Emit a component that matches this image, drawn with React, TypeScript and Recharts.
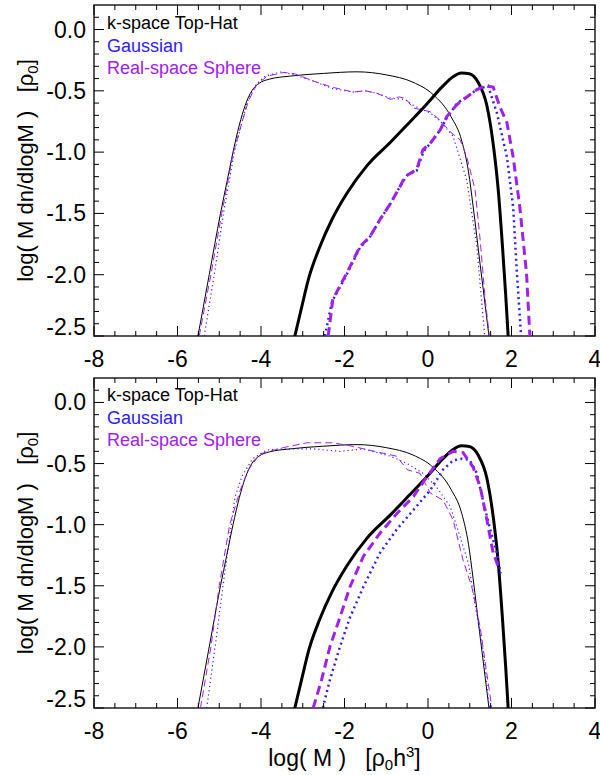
import { LineChart, Line, XAxis, YAxis, ReferenceArea, Legend } from "recharts";

type Pt = [number, number];

const FONT = "'Liberation Sans', Arial, Helvetica, sans-serif";
const BLUE = "#3020ff";
const PURPLE = "#a020f0";

// axis ticks (every minor tick) and the labelled ones
const xTicks = [-8, -7.5, -7, -6.5, -6, -5.5, -5, -4.5, -4, -3.5, -3, -2.5, -2, -1.5, -1, -0.5, 0, 0.5, 1, 1.5, 2, 2.5, 3, 3.5, 4];
const xLabels = [-8, -6, -4, -2, 0, 2, 4];
const yTicks = [-2.5, -2.4, -2.3, -2.2, -2.1, -2, -1.9, -1.8, -1.7, -1.6, -1.5, -1.4, -1.3, -1.2, -1.1, -1, -0.9, -0.8, -0.7, -0.6, -0.5, -0.4, -0.3, -0.2, -0.1, 0, 0.1];
const yLabels = [-2.5, -2, -1.5, -1, -0.5, 0];

const legendNames = ["k-space Top-Hat", "Gaussian", "Real-space Sphere"];

// theory curves, same in both panels
const topHatThin: Pt[] = [
  [-5.51, -2.5], [-5.24, -2.0], [-4.97, -1.5], [-4.82, -1.25], [-4.67, -1.0], [-4.52, -0.78],
  [-4.38, -0.62], [-4.22, -0.5], [-4.05, -0.44], [-3.8, -0.405], [-3.3, -0.38], [-2.5, -0.358],
  [-1.7, -0.345], [-1.0, -0.37], [-0.36, -0.43], [0.12, -0.53], [0.55, -0.71], [0.81, -0.91],
  [0.97, -1.16], [1.08, -1.44], [1.25, -1.92], [1.37, -2.25], [1.46, -2.5],
];
const topHatThick: Pt[] = [
  [-3.19, -2.5], [-3.05, -2.3], [-2.85, -2.02], [-2.6, -1.78], [-2.3, -1.55], [-1.95, -1.34],
  [-1.46, -1.11], [-0.9, -0.92], [-0.45, -0.76], [-0.06, -0.62], [0.36, -0.46], [0.6, -0.385],
  [0.8, -0.355], [0.99, -0.36], [1.2, -0.43], [1.41, -0.62], [1.56, -0.93], [1.68, -1.3],
  [1.78, -1.75], [1.86, -2.16], [1.92, -2.5],
];

// top panel, measured curves
const gaussThinTop: Pt[] = [
  [-5.36, -2.5], [-5.12, -2.0], [-4.9, -1.5], [-4.64, -1.0], [-4.45, -0.75], [-4.32, -0.58],
  [-4.12, -0.45], [-3.9, -0.38], [-3.5, -0.345], [-3.2, -0.37], [-2.75, -0.42], [-2.3, -0.48],
  [-1.8, -0.51], [-1.5, -0.5], [-1.22, -0.52], [-0.9, -0.56], [-0.55, -0.57], [-0.35, -0.62],
  [0.05, -0.68], [0.3, -0.75], [0.6, -0.87], [0.93, -1.23], [1.17, -1.77], [1.34, -2.43], [1.36, -2.5],
];
const sphereThinTop: Pt[] = [
  [-5.48, -2.5], [-5.2, -2.0], [-4.94, -1.5], [-4.66, -1.0], [-4.45, -0.75], [-4.3, -0.58],
  [-4.1, -0.45], [-3.85, -0.38], [-3.45, -0.35], [-3.2, -0.36], [-2.75, -0.42], [-2.3, -0.47],
  [-1.8, -0.51], [-1.5, -0.5], [-1.22, -0.52], [-0.9, -0.57], [-0.7, -0.55], [-0.55, -0.56],
  [-0.35, -0.64], [0.05, -0.67], [0.29, -0.74], [0.55, -0.84], [0.77, -0.9], [0.93, -1.04],
  [1.13, -1.31], [1.25, -1.72], [1.37, -2.2], [1.47, -2.5],
];
const gaussThickTop: Pt[] = [
  [-2.47, -2.5], [-2.3, -2.22], [-1.95, -2.0], [-1.63, -1.78], [-1.39, -1.69], [-1.15, -1.55],
  [-0.9, -1.42], [-0.67, -1.28], [-0.5, -1.19], [-0.27, -1.15], [-0.1, -0.99], [0.05, -0.93],
  [0.29, -0.82], [0.45, -0.72], [0.7, -0.6], [0.93, -0.55], [1.17, -0.49], [1.44, -0.46],
  [1.65, -0.68], [1.89, -1.04], [2.04, -1.45], [2.13, -1.99], [2.23, -2.5],
];
const sphereThickTop: Pt[] = [
  [-2.39, -2.5], [-2.28, -2.2], [-1.95, -1.99], [-1.63, -1.77], [-1.39, -1.69], [-1.15, -1.55],
  [-0.9, -1.42], [-0.67, -1.28], [-0.55, -1.2], [-0.27, -1.14], [-0.12, -0.98], [0.05, -0.93],
  [0.29, -0.82], [0.45, -0.71], [0.7, -0.61], [0.93, -0.55], [1.17, -0.49], [1.37, -0.46],
  [1.56, -0.47], [1.72, -0.63], [1.89, -0.76], [2.04, -1.04], [2.2, -1.45], [2.36, -1.99], [2.44, -2.5],
];

// bottom panel, measured curves
const gaussThinBot: Pt[] = [
  [-5.3, -2.5], [-5.1, -2.0], [-4.89, -1.45], [-4.75, -1.1], [-4.62, -0.77], [-4.45, -0.6],
  [-4.2, -0.46], [-3.86, -0.39], [-3.5, -0.38], [-2.75, -0.38], [-2.11, -0.4], [-1.55, -0.38],
  [-0.9, -0.44], [-0.5, -0.5], [-0.12, -0.58], [0.2, -0.69], [0.53, -0.85], [0.77, -1.1],
  [0.97, -1.32], [1.17, -1.74], [1.33, -2.05], [1.47, -2.5],
];
const sphereThinBot: Pt[] = [
  [-5.45, -2.5], [-5.2, -2.0], [-5.0, -1.5], [-4.75, -1.0], [-4.5, -0.72], [-4.3, -0.55],
  [-4.02, -0.42], [-3.47, -0.37], [-2.9, -0.33], [-2.28, -0.33], [-1.79, -0.36], [-1.15, -0.41],
  [-0.75, -0.44], [-0.5, -0.55], [-0.19, -0.58], [0.05, -0.74], [0.36, -0.8], [0.6, -0.96],
  [0.84, -1.29], [1.05, -1.51], [1.25, -1.84], [1.41, -2.22], [1.53, -2.5],
];
const gaussThickBot: Pt[] = [
  [-2.52, -2.5], [-2.35, -2.27], [-2.11, -2.0], [-1.87, -1.76], [-1.55, -1.51], [-1.15, -1.23],
  [-0.75, -1.04], [-0.35, -0.88], [0.05, -0.72], [0.36, -0.55], [0.6, -0.475], [0.81, -0.46],
  [1.0, -0.47], [1.17, -0.58], [1.33, -0.82], [1.49, -1.04], [1.65, -1.23], [1.74, -1.4],
];
const sphereThickBot: Pt[] = [
  [-2.75, -2.5], [-2.55, -2.27], [-2.35, -2.0], [-2.11, -1.76], [-1.87, -1.51], [-1.55, -1.26],
  [-1.15, -1.07], [-0.75, -0.91], [-0.35, -0.77], [-0.03, -0.61], [0.29, -0.46], [0.6, -0.4],
  [0.84, -0.41], [1.08, -0.53], [1.25, -0.69], [1.41, -0.96], [1.56, -1.23], [1.68, -1.34],
];

const toXY = (pts: Pt[]) => pts.map(([x, y]) => ({ x, y }));

const X_MIN = -8, X_MAX = 4, Y_MIN = -2.5, Y_MAX = 0.2;
const PLOT_RIGHT = 595;
const near = (list: number[], v: number) => list.some((l) => Math.abs(l - v) < 1e-6);

function makeXTick(plotTop: number) {
  return (props: any) => {
    const { x, y, payload } = props;
    const v = payload.value;
    const major = near(xLabels, v);
    const len = major ? 10 : 5;
    return (
      <g>
        <line x1={x} x2={x} y1={y} y2={y - len} stroke="#000" />
        <line x1={x} x2={x} y1={plotTop} y2={plotTop + len} stroke="#000" />
        {major && (
          <text x={x} y={y + 31} textAnchor="middle" fontSize={23} fontFamily={FONT} fill="#000">
            {v}
          </text>
        )}
      </g>
    );
  };
}

function YTick(props: any) {
  const { x, y, payload } = props;
  const v = payload.value;
  const major = near(yLabels, v);
  const len = major ? 10 : 5;
  const shift = Math.abs(v - Y_MIN) < 1e-6 ? -9 : 0;
  return (
    <g>
      <line x1={x} x2={x + len} y1={y} y2={y} stroke="#000" />
      <line x1={PLOT_RIGHT - len} x2={PLOT_RIGHT} y1={y} y2={y} stroke="#000" />
      {major && (
        <text x={x - 8} y={y + shift} dy="0.35em" textAnchor="end" fontSize={23} fontFamily={FONT} fill="#000">
          {v.toFixed(1)}
        </text>
      )}
    </g>
  );
}

function YTitle(props: any) {
  const vb = props.viewBox;
  const cx = 33;
  const cy = vb.y + vb.height / 2;
  return (
    <text x={cx} y={cy} transform={`rotate(-90 ${cx} ${cy})`} textAnchor="middle" fontSize={22}
      fontFamily={FONT} fill="#000" style={{ whiteSpace: "pre" }}>
      {"log( M dn/dlogM )   [ρ"}
      <tspan fontSize={15} dy={5}>0</tspan>
      <tspan dy={-5}>]</tspan>
    </text>
  );
}

function XTitle(props: any) {
  const vb = props.viewBox;
  const cx = vb.x + vb.width / 2;
  const cy = vb.y + 58;
  return (
    <text x={cx} y={cy} textAnchor="middle" fontSize={23} fontFamily={FONT} fill="#000" style={{ whiteSpace: "pre" }}>
      {"log( M )   [ρ"}
      <tspan fontSize={15} dy={4}>0</tspan>
      <tspan dy={-4}>h</tspan>
      <tspan fontSize={15} dy={-9}>3</tspan>
      <tspan dy={9}>]</tspan>
    </text>
  );
}

function LegendBox() {
  const colors = ["#000", BLUE, PURPLE];
  return (
    <div style={{ fontFamily: FONT, fontSize: 18, lineHeight: "22.5px", whiteSpace: "nowrap" }}>
      {legendNames.map((n, i) => (
        <div key={n} style={{ color: colors[i] }}>{n}</div>
      ))}
    </div>
  );
}

function Panel({ height, top, bottom, xAxisHeight, gauss, sphere, gaussThick, sphereThick, showXTitle }: {
  height: number; top: number; bottom: number; xAxisHeight: number;
  gauss: Pt[]; sphere: Pt[]; gaussThick: Pt[]; sphereThick: Pt[]; showXTitle: boolean;
}) {
  return (
    <LineChart width={600} height={height} margin={{ top, right: 5, bottom, left: 0 }}>
      <XAxis
        type="number" dataKey="x" domain={[X_MIN, X_MAX]} ticks={xTicks} interval={0}
        allowDataOverflow tickSize={0} tickMargin={0} tickLine={false} axisLine={false}
        height={xAxisHeight} tick={makeXTick(top)}
        label={showXTitle ? { content: XTitle } : undefined}
      />
      <YAxis
        type="number" domain={[Y_MIN, Y_MAX]} ticks={yTicks} interval={0} allowDataOverflow
        width={94} tickSize={0} tickMargin={0} tickLine={false} axisLine={false}
        tick={YTick} label={{ content: YTitle }}
      />
      <ReferenceArea x1={X_MIN} x2={X_MAX} y1={Y_MIN} y2={Y_MAX} fill="none" stroke="#222" strokeWidth={1.5} fillOpacity={0} />
      <Line data={toXY(topHatThin)} dataKey="y" type="monotone" stroke="#000" strokeWidth={1} dot={false} isAnimationActive={false} />
      <Line data={toXY(gauss)} dataKey="y" type="linear" stroke={BLUE} strokeWidth={1.2} strokeDasharray="1.2 3" dot={false} isAnimationActive={false} />
      <Line data={toXY(sphere)} dataKey="y" type="linear" stroke={PURPLE} strokeWidth={1} strokeDasharray="7 4" dot={false} isAnimationActive={false} />
      <Line data={toXY(topHatThick)} dataKey="y" type="monotone" stroke="#000" strokeWidth={3} dot={false} isAnimationActive={false} />
      <Line data={toXY(gaussThick)} dataKey="y" type="linear" stroke={BLUE} strokeWidth={2.5} strokeDasharray="2 3.5" dot={false} isAnimationActive={false} />
      <Line data={toXY(sphereThick)} dataKey="y" type="linear" stroke={PURPLE} strokeWidth={3} strokeDasharray="9 5" dot={false} isAnimationActive={false} />
      <Legend layout="vertical" align="center" verticalAlign="middle" content={() => <LegendBox />}
        wrapperStyle={{ left: 107, top: 12, width: "auto" }} />
    </LineChart>
  );
}

export default function App() {
  return (
    <div style={{ position: "absolute", left: 0, top: 0, width: 600, height: 775, background: "#fff" }}>
      <div style={{ position: "absolute", left: 0, top: 0 }}>
        <Panel height={372} top={5} bottom={5} xAxisHeight={31}
          gauss={gaussThinTop} sphere={sphereThinTop} gaussThick={gaussThickTop} sphereThick={sphereThickTop}
          showXTitle={false} />
      </div>
      <div style={{ position: "absolute", left: 0, top: 372 }}>
        <Panel height={403} top={6} bottom={0} xAxisHeight={67}
          gauss={gaussThinBot} sphere={sphereThinBot} gaussThick={gaussThickBot} sphereThick={sphereThickBot}
          showXTitle={true} />
      </div>
    </div>
  );
}
